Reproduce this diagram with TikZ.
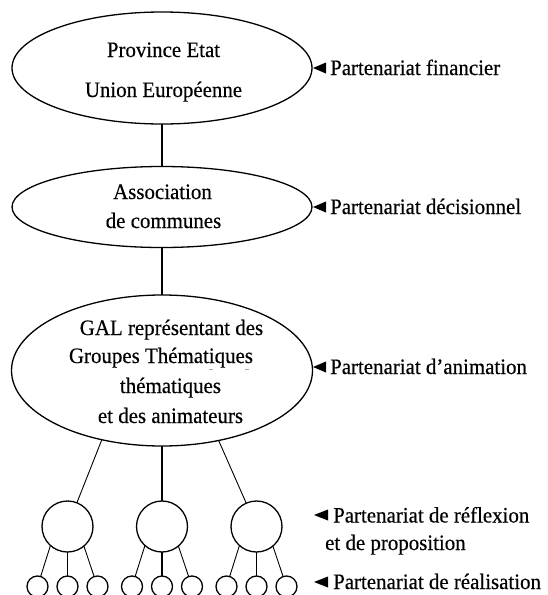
\documentclass[tikz,border=0pt]{standalone}
\usepackage{fontspec}
\setmainfont{Liberation Serif}[FakeStretch=0.95, FakeBold=0.4]
\usetikzlibrary{shapes.geometric}
\begin{document}
\begin{tikzpicture}[x=1pt,y=-1pt,
  oval/.style={draw, ellipse, line width=1.3pt, inner sep=0pt, outer sep=0pt},
  rond/.style={draw, circle, line width=1.3pt, inner sep=0pt, outer sep=0pt},
  txt/.style={font=\fontsize{22}{26}\selectfont, inner sep=0pt},
  lien/.style={line width=1.3pt},
  fin/.style={line width=0.9pt},
  pointe/.style={fill=black},
  trace/.style={draw=black!35, line width=0.8pt}]
\useasboundingbox (0,0) rectangle (548,595);
\clip (0,0) rectangle (548,595);

% ellipses
\node[oval, minimum width=300pt, minimum height=112pt] (e1) at (162,68) {};
\node[oval, minimum width=300pt, minimum height=81pt] (e2) at (162,207) {};
\node[oval, minimum width=301pt, minimum height=151pt] (e3) at (162,370.5) {};

% texts in ellipses
\node[txt, anchor=base] (t11) at (163.5,57) {Province Etat};
\node[txt, anchor=base] (t12) at (163.5,97) {Union Européenne};
\node[txt, anchor=base] (t21) at (162.5,199) {Association};
\node[txt, anchor=base] (t22) at (163.5,228) {de communes};
\node[txt, anchor=base] (t31) at (171.5,335) {GAL représentant des};
\node[txt, anchor=base] (t32) at (161,363) {Groupes Thématiques};
\node[txt, anchor=base] (t33) at (170.5,393) {thématiques};
\node[txt, anchor=base] (t34) at (170.5,423) {et des animateurs};
\draw[trace] (209,369.3) -- (213,369.3);
\draw[trace] (245,369.3) -- (249,369.3);

% vertical links
\draw[lien] (e1) -- (e2);
\draw[lien] (e2) -- (e3);

% circles
\foreach \m/\cx in {1/67.5,2/162,3/256.5} {
  \node[rond, minimum size=51pt] (m\m) at (\cx,526.5) {};
  \foreach \k/\d in {1/-30,2/0,3/30} {
    \node[rond, minimum size=21pt] (s\m\k) at (\cx+\d,586.5) {};
  }
  \draw[fin] (m\m.228) -- (s\m1);
  \draw[lien] (m\m) -- (s\m2);
  \draw[fin] (m\m.310.5) -- (s\m3);
}
\draw[fin] (e3.229.5) -- (m1);
\draw[lien] (e3) -- (m2);
\draw[fin] (e3.309) -- (m3);

% labels
\node[txt, anchor=base west] (l1) at (330,75) {Partenariat financier};
\fill[pointe] (313,68) -- (326,62.5) -- (326,73.5) -- cycle;
\node[txt, anchor=base west] (l2) at (330,214) {Partenariat décisionnel};
\fill[pointe] (313,207) -- (326,201.5) -- (326,212.5) -- cycle;
\node[txt, anchor=base west] (l3) at (330,374) {Partenariat d’animation};
\fill[pointe] (313,367) -- (326,361.5) -- (326,372.5) -- cycle;
\node[txt, anchor=base west] (l4) at (333,522.5) {Partenariat de réflexion};
\node[txt, anchor=base west] (l5) at (325,550) {et de proposition};
\fill[pointe] (314,515) -- (328,509.5) -- (328,520.5) -- cycle;
\node[txt, anchor=base west] (l6) at (333,589) {Partenariat de réalisation};
\fill[pointe] (314,582) -- (328,576.5) -- (328,587.5) -- cycle;
\end{tikzpicture}
\end{document}
